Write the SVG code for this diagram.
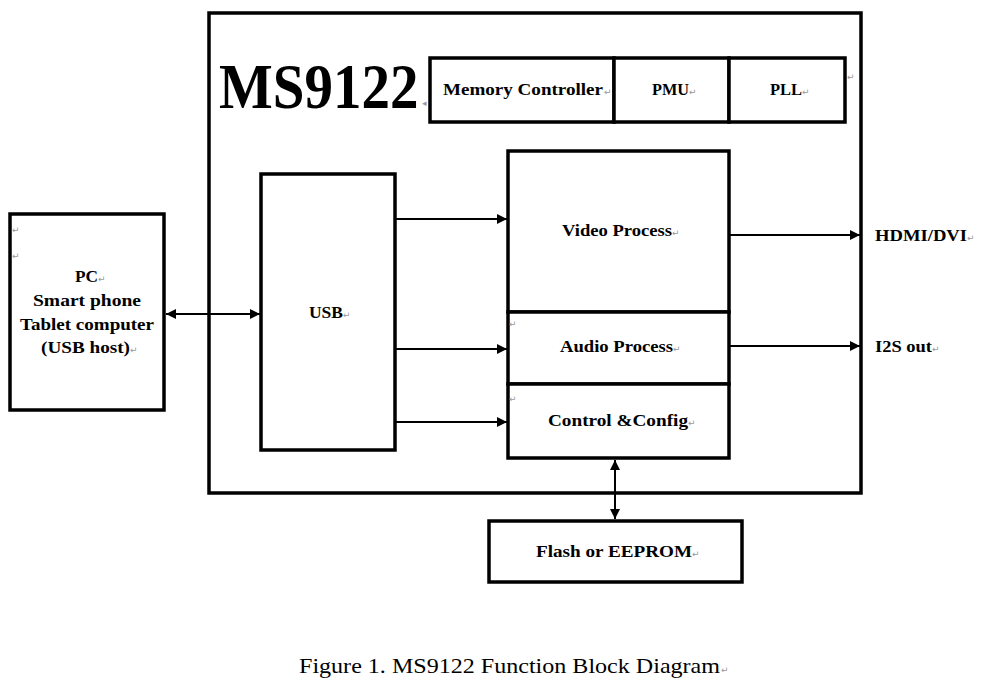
<svg xmlns="http://www.w3.org/2000/svg" width="993" height="682" viewBox="0 0 993 682">
<defs>
<marker id="ah" viewBox="0 0 10 10" refX="10" refY="5" markerWidth="7.5" markerHeight="5" markerUnits="strokeWidth" orient="auto-start-reverse">
<path d="M0,0 L10,5 L0,10 z" fill="#000"/>
</marker>
<style>
.box{fill:#fff;stroke:#000;stroke-width:3.5}
.lbl{font-family:"Liberation Serif","Times New Roman",serif;font-weight:bold;font-size:17px;fill:#000;text-anchor:middle}
.side{font-family:"Liberation Serif","Times New Roman",serif;font-weight:bold;font-size:17px;fill:#000}
.pm{font-family:"DejaVu Sans",sans-serif;font-size:9px;fill:#999}
.con{stroke:#000;stroke-width:2;fill:none}
</style>
</defs>
<rect width="993" height="682" fill="#fff"/>
<g id="ms9122">
<rect class="box" x="209" y="13" width="652" height="480"/>
<text transform="translate(219,108) scale(1,1.12)" x="0" y="0" font-family="Liberation Serif,Times New Roman,serif" font-weight="bold" font-size="57">MS9122</text>
<text class="pm" x="422" y="106" font-size="6">◂</text>
</g>
<g id="memctrl">
<rect class="box" x="430" y="58" width="184" height="64"/>
<text class="lbl" x="523" y="95" textLength="160" lengthAdjust="spacingAndGlyphs">Memory Controller</text>
<text class="pm" x="604" y="95">↵</text>
</g>
<g id="pmu">
<rect class="box" x="614" y="58" width="115" height="64"/>
<text class="lbl" x="670.5" y="95" textLength="37" lengthAdjust="spacingAndGlyphs">PMU</text>
<text class="pm" x="689" y="95">↵</text>
</g>
<g id="pll">
<rect class="box" x="729" y="58" width="116" height="64"/>
<text class="lbl" x="786" y="95" textLength="32" lengthAdjust="spacingAndGlyphs">PLL</text>
<text class="pm" x="802" y="95">↵</text>
<text class="pm" x="847" y="80">↵</text>
</g>
<g id="video">
<rect class="box" x="508" y="151" width="221" height="161"/>
<text class="lbl" x="617" y="236" textLength="110" lengthAdjust="spacingAndGlyphs">Video Process</text>
<text class="pm" x="672" y="236">↵</text>
</g>
<g id="audio">
<rect class="box" x="508" y="312" width="221" height="72"/>
<text class="lbl" x="616.5" y="352" textLength="113" lengthAdjust="spacingAndGlyphs">Audio Process</text>
<text class="pm" x="673" y="352">↵</text>
<text class="pm" x="509" y="327">↵</text>
</g>
<g id="control">
<rect class="box" x="508" y="384" width="221" height="74"/>
<text class="lbl" x="618" y="426" textLength="140" lengthAdjust="spacingAndGlyphs">Control &amp;Config</text>
<text class="pm" x="688" y="426">↵</text>
<text class="pm" x="509" y="402">↵</text>
</g>
<g id="usb">
<rect class="box" x="261" y="174" width="134" height="276"/>
<text class="lbl" x="326" y="318" textLength="34" lengthAdjust="spacingAndGlyphs">USB</text>
<text class="pm" x="343" y="318">↵</text>
</g>
<g id="host">
<rect class="box" x="10" y="214" width="154" height="196"/>
<text class="pm" x="12" y="233">↵</text>
<text class="pm" x="12" y="259">↵</text>
<text class="lbl" x="86.5" y="282" textLength="23" lengthAdjust="spacingAndGlyphs">PC</text>
<text class="pm" x="98" y="282">↵</text>
<text class="lbl" x="87" y="306" textLength="108" lengthAdjust="spacingAndGlyphs">Smart phone</text>
<text class="lbl" x="87" y="330" textLength="134" lengthAdjust="spacingAndGlyphs">Tablet computer</text>
<text class="lbl" x="85.5" y="353" textLength="89" lengthAdjust="spacingAndGlyphs">(USB host)</text>
<text class="pm" x="130" y="353">↵</text>
</g>
<g id="flash">
<rect class="box" x="489" y="521" width="253" height="61"/>
<text class="lbl" x="614" y="557" textLength="156" lengthAdjust="spacingAndGlyphs">Flash or EEPROM</text>
<text class="pm" x="692" y="557">↵</text>
</g>
<g id="outputs">
<text class="side" x="875" y="241" textLength="92" lengthAdjust="spacingAndGlyphs">HDMI/DVI</text>
<text class="pm" x="967" y="241">↵</text>
<text class="side" x="875" y="352" textLength="57" lengthAdjust="spacingAndGlyphs">I2S out</text>
<text class="pm" x="932" y="352">↵</text>
</g>
<g id="connectors">
<line class="con" x1="166" y1="314" x2="260" y2="314" marker-start="url(#ah)" marker-end="url(#ah)"/>
<line class="con" x1="395" y1="219" x2="507" y2="219" marker-end="url(#ah)"/>
<line class="con" x1="395" y1="349" x2="507" y2="349" marker-end="url(#ah)"/>
<line class="con" x1="395" y1="422" x2="507" y2="422" marker-end="url(#ah)"/>
<line class="con" x1="729" y1="235" x2="860" y2="235" marker-end="url(#ah)"/>
<line class="con" x1="729" y1="346" x2="860" y2="346" marker-end="url(#ah)"/>
<line class="con" x1="615" y1="460" x2="615" y2="519" marker-start="url(#ah)" marker-end="url(#ah)"/>
</g>
<g id="caption">
<text x="299" y="673" font-family="Liberation Serif,Times New Roman,serif" font-size="22" textLength="421" lengthAdjust="spacingAndGlyphs">Figure 1. MS9122 Function Block Diagram</text>
<text class="pm" x="721" y="673">↵</text>
</g>
</svg>
